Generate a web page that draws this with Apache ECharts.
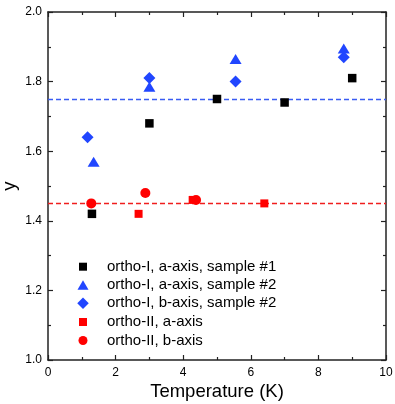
<!DOCTYPE html>
<html>
<head>
<meta charset="utf-8">
<script src="https://cdn.jsdelivr.net/npm/echarts@6/dist/echarts.min.js"></script>
<style>
html,body{margin:0;padding:0;background:#fff;}
#chart{width:395px;height:404px;}
</style>
</head>
<body>
<div id="chart"></div>
<script>
// Data
var seriesNames = ['ortho-I, a-axis, sample #1', 'ortho-I, a-axis, sample #2', 'ortho-I, b-axis, sample #2', 'ortho-II, a-axis', 'ortho-II, b-axis'];
var orthoI_a_s1 = [[1.3, 1.42], [3.0, 1.68], [5.0, 1.75], [7.0, 1.74], [9.0, 1.81]];
var orthoI_a_s2 = [[1.35, 1.57], [3.0, 1.785], [5.55, 1.865], [8.75, 1.895]];
var orthoI_b_s2 = [[1.17, 1.64], [3.0, 1.81], [5.55, 1.80], [8.75, 1.87]];
var orthoII_a = [[2.68, 1.42], [4.28, 1.46], [6.4, 1.45]];
var orthoII_b = [[1.28, 1.45], [2.88, 1.48], [4.38, 1.46]];
var refLines = [1.75, 1.45];
var xTicks = [0, 2, 4, 6, 8, 10];
var yTicks = ['1.0', '1.2', '1.4', '1.6', '1.8', '2.0'];

var FONT = '"Liberation Sans", Arial, Helvetica, sans-serif';
var BLUE = '#2146ff';
var RED = '#ff0000';

function axisBase(pos, showLabel, isX) {
  return {
    type: 'value',
    position: pos,
    min: isX ? 0 : 1.0,
    max: isX ? 10 : 2.0,
    interval: isX ? 2 : 0.2,
    nameMoveOverlap: false,
    axisLine: {show: true, onZero: false, lineStyle: {color: '#222', width: 1.5}},
    axisTick: {show: true, inside: true, length: 5, lineStyle: {color: '#222', width: 1.2}},
    minorTick: {show: true, splitNumber: 2, length: 3, lineStyle: {color: '#222', width: 1.2}},
    splitLine: {show: false},
    axisLabel: {
      show: showLabel, color: '#000', fontSize: 12, fontFamily: FONT, margin: isX ? 7 : 6,
      formatter: function (v) {
        return isX ? String(xTicks[Math.round(v / 2)]) : yTicks[Math.round((v - 1) / 0.2)];
      }
    }
  };
}

var xBottom = axisBase('bottom', true, true);
xBottom.name = 'Temperature (K)';
xBottom.nameLocation = 'middle';
xBottom.nameGap = 22;
xBottom.nameTextStyle = {fontSize: 18.5, fontFamily: FONT, color: '#000'};
var xTop = axisBase('top', false, true);
var yLeft = axisBase('left', true, false);
yLeft.name = 'y';
yLeft.nameLocation = 'middle';
yLeft.nameGap = 29;
yLeft.nameRotate = 90;
yLeft.nameTextStyle = {fontSize: 18.5, fontFamily: FONT, color: '#000'};
var yRight = axisBase('right', false, false);

// legend: one component per row so each icon can have its own size
var legendIcons = ['rect', 'triangle', 'diamond', 'rect', 'circle'];
var legendIconW = [8, 11, 11.5, 8, 9];
var legendIconH = [8, 9.5, 11.5, 8, 9];
var legendRowY = [266.7, 285, 303.3, 322, 340.5];
var legends = seriesNames.map(function (n, i) {
  return {
    orient: 'vertical',
    left: 83 - legendIconW[i] / 2,
    top: legendRowY[i] - 8,
    padding: 0,
    itemWidth: legendIconW[i],
    itemHeight: legendIconH[i],
    textStyle: {fontSize: 15, lineHeight: 16, fontFamily: FONT, color: '#000', padding: [0, 0, 0, 19 - legendIconW[i] / 2]},
    data: [{name: n, icon: legendIcons[i]}],
    selectedMode: false
  };
});

var chart = echarts.init(document.getElementById('chart'), null, {renderer: 'canvas'});
chart.setOption({
  backgroundColor: '#fff',
  animation: false,
  grid: {left: 48, top: 12, width: 338, height: 348, containLabel: false, outerBoundsMode: 'none'},
  xAxis: [xBottom, xTop],
  yAxis: [yLeft, yRight],
  legend: legends,
  series: [
    {
      type: 'line', data: [], silent: true, showSymbol: false,
      markLine: {
        silent: true, symbol: ['none', 'none'], label: {show: false},
        data: [
          {yAxis: refLines[0], lineStyle: {color: '#3a5cf2', type: [5, 3], width: 1.4}},
          {yAxis: refLines[1], lineStyle: {color: '#f01e1e', type: [5, 3], width: 1.4}}
        ]
      }
    },
    {name: seriesNames[0], type: 'scatter', symbol: 'rect', symbolSize: 8.5, itemStyle: {color: '#000', opacity: 1}, data: orthoI_a_s1, z: 5},
    {name: seriesNames[1], type: 'scatter', symbol: 'triangle', symbolSize: [12, 10], itemStyle: {color: BLUE, opacity: 1}, data: orthoI_a_s2, z: 5},
    {name: seriesNames[2], type: 'scatter', symbol: 'diamond', symbolSize: [12, 12], itemStyle: {color: BLUE, opacity: 1}, data: orthoI_b_s2, z: 5},
    {name: seriesNames[3], type: 'scatter', symbol: 'rect', symbolSize: 8, itemStyle: {color: RED, opacity: 1}, data: orthoII_a, z: 5},
    {name: seriesNames[4], type: 'scatter', symbol: 'circle', symbolSize: 10, itemStyle: {color: RED, opacity: 1}, data: orthoII_b, z: 5}
  ]
});
</script>
</body>
</html>
